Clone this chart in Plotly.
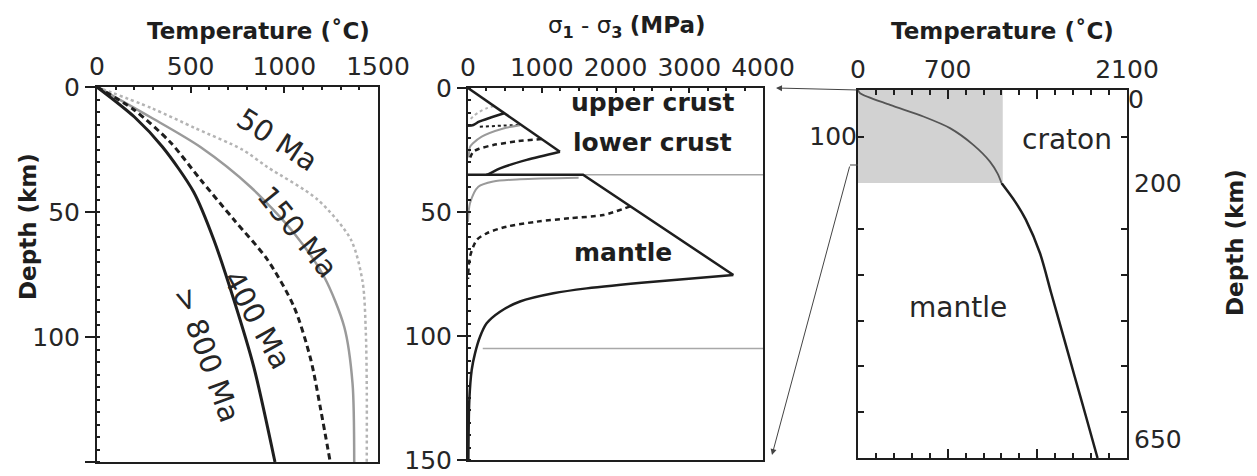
import plotly.graph_objects as go

W, H = 1257, 476

# ---- left panel: geotherms (depth km, temperature C)
ma50_depth = [0, 8.5, 16.5, 25, 32, 45, 61, 78, 98, 120, 150]
ma50_temp = [0, 293, 525, 775, 909, 1177, 1355, 1418, 1435, 1440, 1440]
ma150_depth = [0, 12, 24, 40, 58.5, 76, 96, 118.5, 150]
ma150_temp = [0, 284, 552, 820, 1052, 1213, 1320, 1364, 1373]
ma400_depth = [0, 9, 22, 37, 53, 69, 88, 109, 129, 150]
ma400_temp = [0, 195, 390, 552, 730, 909, 1052, 1141, 1194, 1245]
ma800_depth = [0, 12, 24, 42, 61, 85, 112, 150]
ma800_temp = [0, 200, 350, 516, 623, 730, 837, 950]
age_labels = ["50 Ma", "150 Ma", "400 Ma", "> 800 Ma"]
age_label_temp = [964, 1071, 857, 589]
age_label_depth = [21, 58, 93, 107]
age_label_angle = [33, 51, 61, 70]

# ---- middle panel: strength envelopes (stress MPa, depth km)
crust800_stress = [0, 1247]
crust800_depth = [0, 25.7]
crust800_duct_stress = [1247, 796, 434, 298, 250]
crust800_duct_depth = [25.7, 29, 32.4, 34.4, 35]
upper_solid_stress = [490, 300, 150, 72, 0]
upper_solid_depth = [10.2, 12, 13.6, 14.9, 15.2]
upper50_stress = [350, 250, 160, 80, 20]
upper50_depth = [7.3, 8.2, 9.5, 11.2, 13]
uclc_dot_stress = [160, 450, 730]
uclc_dot_depth = [15.6, 15.2, 14.8]
lower400_stress = [1000, 660, 343, 150, 72, 30]
lower400_depth = [20.6, 21.5, 23, 24.5, 25.7, 28]
lower150_stress = [705, 479, 186, 60, 27, 10]
lower150_depth = [15, 16.3, 19.6, 22.5, 23.7, 28]
mantle800_brittle_stress = [0, 1560, 3598]
mantle800_brittle_depth = [35, 35, 75.4]
mantle800_stress = [3598, 2513, 1609, 1157, 705, 434, 253, 163, 95, 50, 18, 5]
mantle800_depth = [75.4, 78.1, 80.8, 82.8, 86.1, 90.2, 94.9, 100.3, 107, 113.7, 125.8, 150]
mantle150_stress = [1500, 705, 343, 140, 27, 0]
mantle150_depth = [36.2, 36.8, 37.7, 39.8, 46.5, 54]
mantle400_stress = [2200, 1835, 1383, 931, 524, 253, 118, 27, 0]
mantle400_depth = [47.7, 51.2, 52.5, 53.9, 55.9, 58.6, 61.3, 68, 77]
boundary_depth = [35, 105]
boundary_start = [0, 200]
layer_labels = ["upper crust", "lower crust", "mantle"]
layer_label_stress = [2495, 2508, 2102]
layer_label_depth = [6, 21.8, 66.5]

# ---- right panel: cratonic geotherm to 650 km
craton_depth = [0, 7, 32, 57, 82, 118, 154, 180, 200, 230, 260, 315, 380, 446, 517, 580, 650]
craton_temp = [0, 16, 250, 510, 718, 900, 1030, 1090, 1120, 1225, 1310, 1421, 1508, 1597, 1692, 1777, 1870]
craton_base = 200
craton_box_temp = 1130

FONT = "DejaVu Sans"
INK = "#1e1e1e"
GREY = "#9a9a9a"
LIGHT = "#b4b4b4"


def px(x):
    return x / W


def py(y):
    return 1 - y / H


fig = go.Figure()


def line(x, y, xa, ya, color, width, dash="solid", smooth=True):
    fig.add_trace(go.Scatter(x=x, y=y, xaxis=xa, yaxis=ya, mode="lines",
                             line=dict(color=color, width=width, dash=dash,
                                       shape="spline" if smooth else "linear",
                                       smoothing=0.8),
                             showlegend=False, hoverinfo="skip"))


# left panel
line(ma50_temp, ma50_depth, "x", "y", LIGHT, 2.5, "dot")
line(ma150_temp, ma150_depth, "x", "y", GREY, 2.5)
line(ma400_temp, ma400_depth, "x", "y", INK, 3, "6px,4px")
line(ma800_temp, ma800_depth, "x", "y", INK, 3)

# middle panel
for d, s in zip(boundary_depth, boundary_start):
    line([s, 4000], [d, d], "x2", "y2", "#a8a8a8", 1.5, smooth=False)
line(upper50_stress, upper50_depth, "x2", "y2", LIGHT, 2, "dot")
line(upper_solid_stress, upper_solid_depth, "x2", "y2", INK, 2.5)
line(uclc_dot_stress, uclc_dot_depth, "x2", "y2", INK, 2, "dot")
line(lower150_stress, lower150_depth, "x2", "y2", GREY, 2)
line(lower400_stress, lower400_depth, "x2", "y2", INK, 2.5, "5px,4px")
line(crust800_stress, crust800_depth, "x2", "y2", INK, 2.5, smooth=False)
line(crust800_duct_stress, crust800_duct_depth, "x2", "y2", INK, 2.5)
line(mantle150_stress, mantle150_depth, "x2", "y2", GREY, 2)
line(mantle400_stress, mantle400_depth, "x2", "y2", INK, 2.5, "5px,4px")
line(mantle800_brittle_stress, mantle800_brittle_depth, "x2", "y2", INK, 2.5, smooth=False)
line(mantle800_stress, mantle800_depth, "x2", "y2", INK, 2.5)

# right panel
fig.add_trace(go.Scatter(x=[0, craton_box_temp, craton_box_temp, 0, 0],
                         y=[0, 0, craton_base, craton_base, 0],
                         xaxis="x3", yaxis="y3", mode="lines", fill="toself",
                         fillcolor="#d2d2d2", line=dict(width=0),
                         showlegend=False, hoverinfo="skip"))
top_t = [t for t, d in zip(craton_temp, craton_depth) if d <= craton_base]
top_d = [d for d in craton_depth if d <= craton_base]
bot_t = [t for t, d in zip(craton_temp, craton_depth) if d >= craton_base]
bot_d = [d for d in craton_depth if d >= craton_base]
line(top_t, top_d, "x3", "y3", "#555555", 1.8)
line(bot_t, bot_d, "x4", "y4", INK, 2.5)
for ya in ["y5", "y6"]:
    fig.add_trace(go.Scatter(x=[craton_temp[0]], y=[craton_depth[0]], xaxis="x3", yaxis=ya,
                             mode="markers", marker=dict(opacity=0),
                             showlegend=False, hoverinfo="skip"))

tickfont = dict(family=FONT, size=25, color="#262626")
common = dict(showgrid=False, zeroline=False, showline=True, linecolor=INK, linewidth=2,
              tickcolor=INK, tickfont=tickfont, automargin=False)

left_x = [px(97), px(378)]
mid_x = [px(468), px(763)]
right_x = [px(858), px(1127)]

fig.update_layout(
    width=W, height=H, margin=dict(l=0, r=0, t=0, b=0, autoexpand=False),
    paper_bgcolor="white", plot_bgcolor="white",
    xaxis=dict(domain=left_x, range=[0, 1500], side="top", anchor="y", dtick=500,
               ticks="inside", ticklen=6, tickwidth=2, mirror=True,
               minor=dict(dtick=100, ticks="inside", ticklen=3, tickcolor=INK), **common),
    yaxis=dict(domain=[py(462), py(87)], range=[150, 0], anchor="x", dtick=50,
               ticks="outside", ticklen=10, tickwidth=2, mirror=True,
               minor=dict(dtick=5, ticks="inside", ticklen=3, tickcolor=INK), **common),
    xaxis2=dict(domain=mid_x, range=[0, 4000], side="top", anchor="y2", dtick=1000,
                ticks="inside", ticklen=5, tickwidth=2, mirror=True,
                minor=dict(dtick=250, ticks="inside", ticklen=3, tickcolor=INK), **common),
    yaxis2=dict(domain=[py(460), py(88)], range=[150, 0], anchor="x2", dtick=50,
                ticks="outside", ticklen=9, tickwidth=2, mirror=True,
                minor=dict(dtick=5, ticks="inside", ticklen=3, tickcolor=INK), **common),
    xaxis3=dict(domain=right_x, range=[0, 2100], side="top", anchor="y3",
                tickvals=[0, 700, 1400, 2100], ticktext=["0", "700", "", "2100"],
                ticks="inside", ticklen=9, tickwidth=2,
                minor=dict(dtick=140, ticks="inside", ticklen=5, tickcolor=INK), **common),
    yaxis3=dict(domain=[py(183), py(90)], range=[craton_base, 0], anchor="x3", side="right",
                tickvals=[0, 100, 200], ticktext=["", "", "200"],
                ticks="inside", ticklen=6, tickwidth=2, mirror="ticks", **common),
    xaxis4=dict(domain=right_x, range=[0, 2100], side="bottom", anchor="y4",
                tickvals=[0, 700, 1400, 2100], showticklabels=False,
                ticks="inside", ticklen=9, tickwidth=2,
                minor=dict(dtick=140, ticks="inside", ticklen=5, tickcolor=INK), **common),
    yaxis4=dict(domain=[py(458), py(183)], range=[650, craton_base], anchor="x4", side="right",
                tickvals=[275, 350, 425, 500, 575, 650], ticktext=["", "", "", "", "", "650"],
                ticklabelposition="outside top",
                ticks="inside", ticklen=6, tickwidth=2, mirror="ticks", **common),
    yaxis5=dict(overlaying="y3", range=[craton_base, 0], anchor="x3", side="left",
                tickvals=[100], ticktext=["100"], ticks="", showline=False, automargin=False,
                showgrid=False, zeroline=False, tickfont=tickfont),
    yaxis6=dict(overlaying="y3", range=[craton_base, 0], anchor="x3", side="right",
                tickvals=[0], ticktext=["0"], ticks="", showline=False, automargin=False,
                ticklabelshift=-9,
                showgrid=False, zeroline=False, tickfont=tickfont),
)

titlefont = dict(family=FONT, size=23, color=INK)
ann = [
    dict(text="<b>Temperature (˚C)</b>", x=px(258), y=py(31)),
    dict(text="σ<sub><b>1</b></sub> - σ<sub><b>3</b></sub> <b>(MPa)</b>", x=px(626), y=py(27),
         font=dict(family=FONT, size=23, color=INK)),
    dict(text="<b>Temperature (˚C)</b>", x=px(1002), y=py(31)),
    dict(text="<b>Depth (km)</b>", x=px(28), y=py(227), textangle=-90),
    dict(text="<b>Depth (km)</b>", x=px(1235), y=py(243), textangle=-90),
]
for a in ann:
    a.setdefault("font", titlefont)
    fig.add_annotation(xref="paper", yref="paper", showarrow=False,
                       xanchor="center", yanchor="middle", **a)

for t, x, y, ang in zip(age_labels, age_label_temp, age_label_depth, age_label_angle):
    fig.add_annotation(text=t, x=x, y=y, xref="x", yref="y", textangle=ang, showarrow=False,
                       font=dict(family=FONT, size=29, color="#262626"))

for t, x, y in zip(layer_labels, layer_label_stress, layer_label_depth):
    fig.add_annotation(text="<b>%s</b>" % t, x=x, y=y, xref="x2", yref="y2", showarrow=False,
                       font=dict(family=FONT, size=25, color=INK))

fig.add_annotation(text="craton", x=1632, y=107, xref="x3", yref="y3", showarrow=False,
                   font=dict(family=FONT, size=28, color="#262626"))
fig.add_annotation(text="mantle", x=781, y=404, xref="x4", yref="y4", showarrow=False,
                   font=dict(family=FONT, size=28, color="#262626"))

# connectors from the craton column back to the strength panel
for head, tail in [((776, 88), (858, 90)), ((772, 455), (850, 165))]:
    fig.add_annotation(xref="paper", yref="paper", x=px(head[0]), y=py(head[1]),
                       ax=tail[0] - head[0], ay=tail[1] - head[1], text="",
                       showarrow=True, arrowhead=2, arrowsize=1.2, arrowwidth=1,
                       arrowcolor="#444444", standoff=0)
fig.add_shape(type="line", xref="paper", yref="paper", x0=px(850), y0=py(165),
              x1=px(858), y1=py(165), line=dict(color="#444444", width=1))

fig.write_html("out.html", config={"displayModeBar": False})

# drop the browser's default page margin so the figure sits at the window origin
with open("out.html", encoding="utf-8") as f:
    page = f.read()
page = page.replace("<body>", '<body style="margin:0">', 1)
with open("out.html", "w", encoding="utf-8") as f:
    f.write(page)
